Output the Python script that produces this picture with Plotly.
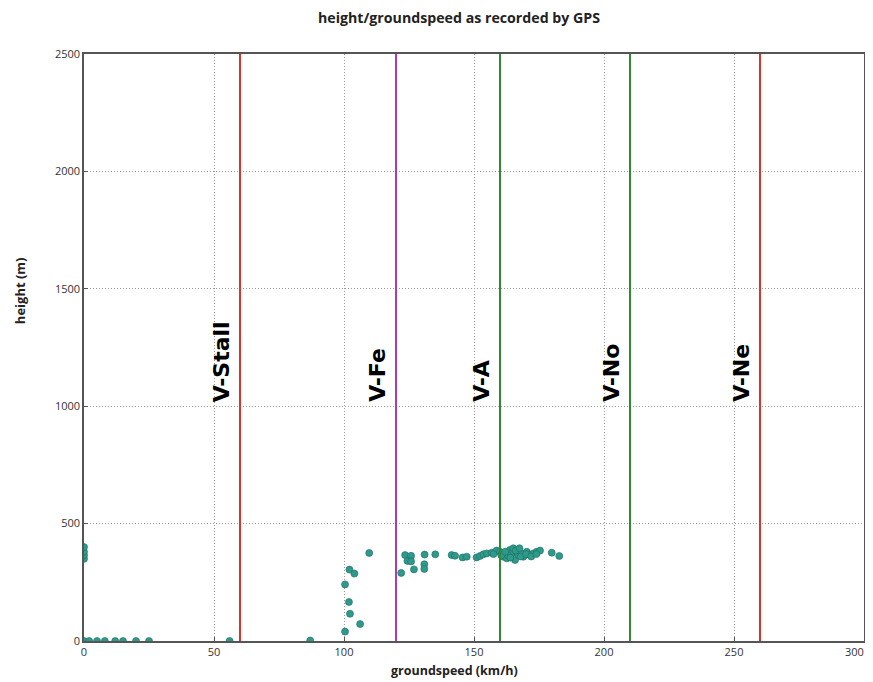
import plotly.graph_objects as go

# groundspeed (km/h) and height (m) GPS samples
speed = [0, 0, 0, 0, 0, 2, 5, 8, 12, 15, 20, 25, 56, 87,
         100.4, 106.2, 102.3, 101.9, 100.4, 102.1, 104.0, 109.7,
         122.0, 123.5, 125.8, 124.4, 125.8, 126.9, 131.0, 130.9, 130.9, 135.1,
         141.4, 142.7, 145.6, 147.2, 151.0, 152.3, 153.6, 154.9, 156.8, 158.7,
         160.0, 161.3, 161.9, 162.6, 163.8, 164.5, 165.1, 165.8, 166.4, 167.1,
         168.3, 169.0, 170.3, 171.5, 172.8, 174.1, 175.4, 179.9, 182.8,
         157.5, 163.0, 166.0, 168.0, 170.0, 160.5, 162.0, 164.0, 167.5, 172.0, 174.0]
height = [0, 350, 365, 380, 400, 0, 0, 0, 0, 0, 0, 0, 0, 2,
          40, 72, 116, 166, 241, 304, 287, 375,
          290, 366, 363, 341, 339, 305, 368, 327, 307, 369,
          366, 363, 356, 359, 356, 362, 369, 373, 376, 385,
          380, 359, 373, 352, 388, 373, 395, 345, 380, 366,
          373, 359, 380, 366, 373, 380, 385, 376, 362,
          370, 365, 385, 360, 370, 365, 380, 355, 395, 360, 370]

# reference speeds
vnames = ["V-Stall", "V-Fe", "V-A", "V-No", "V-Ne"]
vspeeds = [60, 120, 160, 210, 260]
vcolors = ["#d9342b", "#a83cb8", "#2e8b2e", "#2e8b2e", "#d9342b"]
label_height = 1000

xticks = [0, 50, 100, 150, 200, 250, 300]
xtick_labels = ["0", "50", "100", "150", "200", "250", "300"]
yticks = [0, 500, 1000, 1500, 2000, 2500]

tick_font = dict(family="Open Sans, sans-serif", size=11, color="#333333")

fig = go.Figure()
fig.add_trace(go.Scatter(
    x=speed, y=height, mode="markers",
    marker=dict(size=7, color="#2e9a8c", line=dict(color="#1f6b62", width=0.6)),
    showlegend=False, hoverinfo="x+y"))

for name, v, c in zip(vnames, vspeeds, vcolors):
    fig.add_shape(type="line", x0=v, x1=v, y0=0, y1=1, xref="x", yref="paper",
                  line=dict(color=c, width=2))
    fig.add_annotation(x=v, y=label_height, xref="x", yref="y", text="<b>" + name + "</b>",
                       showarrow=False, textangle=-90, xanchor="right", yanchor="bottom",
                       xshift=-4, yshift=2,
                       font=dict(family="DejaVu Sans, sans-serif", size=22, color="black"))

axis_common = dict(
    showline=True, linecolor="#555555", linewidth=1.5, mirror=True,
    showgrid=True, gridcolor="#9a9a9a", griddash="1px,2px", gridwidth=1,
    ticks="inside", ticklen=4, tickcolor="#555555",
    tickfont=tick_font,
    zeroline=False, automargin=False,
)

# last x tick label drawn as annotation so it stays inside the window
fig.add_annotation(x=xticks[-1], y=0, xref="x", yref="paper", text=xtick_labels[-1],
                   showarrow=False, xanchor="right", yanchor="middle",
                   xshift=2, yshift=-10, font=tick_font)

# axis titles as annotations to match placement
fig.add_annotation(x=0.4756, y=0, xref="paper", yref="paper", yshift=-29,
                   text="<b>groundspeed (km/h)</b>", showarrow=False,
                   xanchor="center", yanchor="middle",
                   font=dict(family="Open Sans, sans-serif", size=12.5, color="#222222"))
fig.add_annotation(x=0, y=0.596, xref="paper", yref="paper", xshift=-64,
                   text="<b>height (m)</b>", showarrow=False, textangle=-90,
                   xanchor="center", yanchor="middle",
                   font=dict(family="Open Sans, sans-serif", size=13, color="#222222"))

fig.update_layout(
    width=873, height=674,
    margin=dict(l=76, r=17, t=46, b=41, autoexpand=False),
    plot_bgcolor="white", paper_bgcolor="white",
    title=dict(text="<b>height/groundspeed as recorded by GPS</b>", x=451 / 873, xanchor="center",
               xref="container", y=1 - 10 / 674, yref="container", yanchor="middle",
               font=dict(family="Open Sans, sans-serif", size=14.2, color="#222222")),
    xaxis=dict(range=[0, 300], tickvals=xticks,
               ticktext=xtick_labels[:-1] + [""], **axis_common),
    yaxis=dict(range=[0, 2500], tickvals=yticks, **axis_common),
)

fig.write_html("out.html")
